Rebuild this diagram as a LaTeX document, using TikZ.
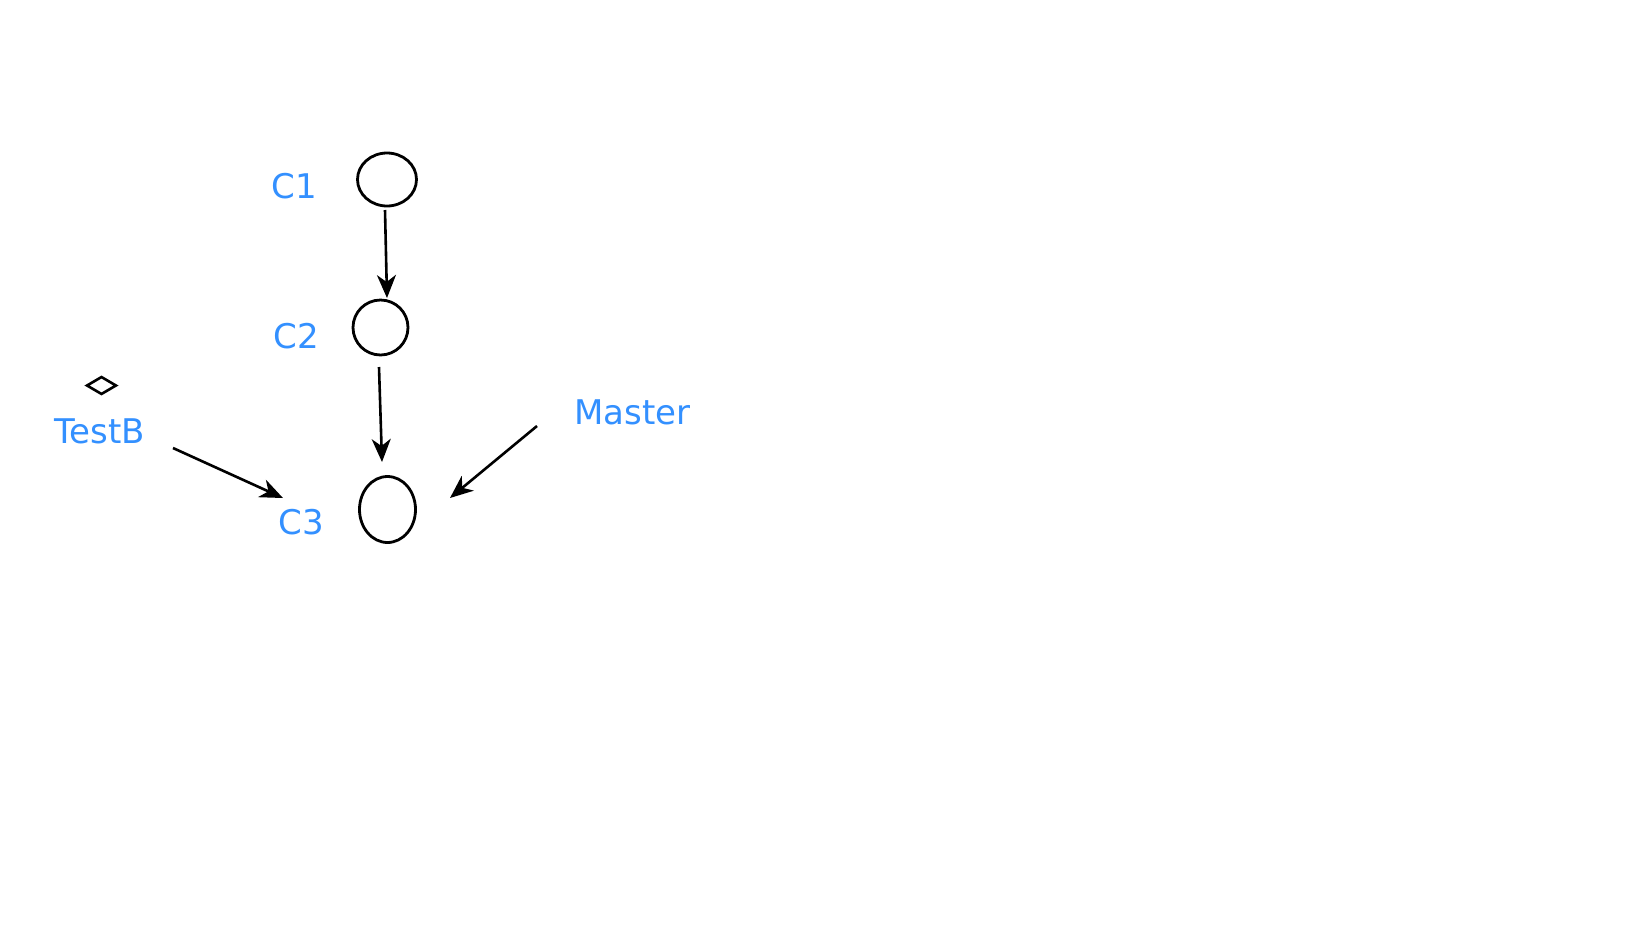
\documentclass[tikz,border=0pt]{standalone}
\usepackage{fontspec}
\setmainfont{DejaVu Sans}
\usetikzlibrary{shapes.geometric,arrows.meta}
\definecolor{lblue}{RGB}{51,144,255}
\begin{document}
\begin{tikzpicture}[x=1pt,y=-1pt,
  commit/.style={draw=black,line width=2.8pt,ellipse,inner sep=0pt},
  lbl/.style={text=lblue,font=\fontsize{34}{40}\selectfont,inner sep=0pt,anchor=center},
  conn/.style={draw=black,line width=2.6pt,-{Stealth[length=23pt,width=19pt,inset=7pt]}}]
\useasboundingbox[fill=white] (0,0) rectangle (1648,927);
\node[commit,minimum width=59pt,minimum height=53pt] (c1) at (387,179.5) {};
\node[commit,minimum width=55pt,minimum height=55pt] (c2) at (380.5,327.5) {};
\node[commit,minimum width=56pt,minimum height=66pt] (c3) at (387.5,509.5) {};
\node[lbl] (l1) at (294.5,186) {C1};
\node[lbl] (l2) at (296.5,336.5) {C2};
\node[lbl] (l3) at (301,522) {C3};
\node[lbl] (tb) at (99.5,431) {TestB};
\node[lbl] (ms) at (632.5,412) {Master};
\node[draw=black,line width=2.6pt,diamond,inner sep=0pt,minimum width=30pt,minimum height=18pt] (dm) at (101.5,385.5) {};
\coordinate (a1s) at (385,210);
\coordinate (a1e) at (387,298);
\coordinate (a2s) at (379,367);
\coordinate (a2e) at (382,462);
\coordinate (tbs) at (173,448);
\coordinate (tbe) at (283,498);
\coordinate (mss) at (537,426);
\coordinate (mse) at (450,498);
\draw[conn] (a1s) -- (a1e);
\draw[conn] (a2s) -- (a2e);
\draw[conn] (tbs) -- (tbe);
\draw[conn] (mss) -- (mse);
\end{tikzpicture}
\end{document}
